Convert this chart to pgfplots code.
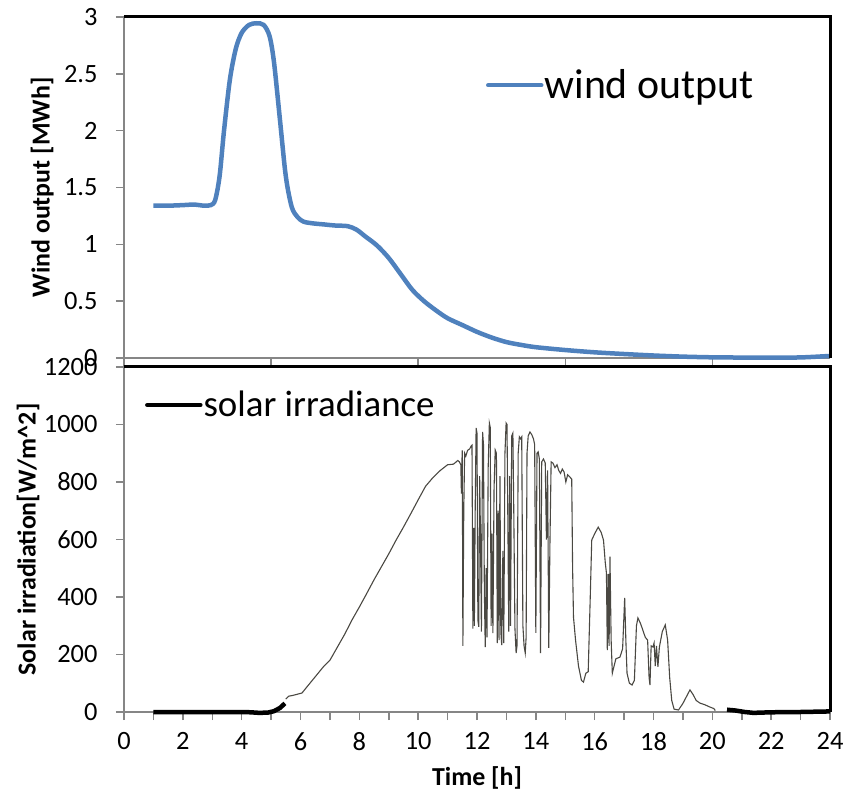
\documentclass[border=0pt]{standalone}
\usepackage{fontspec}
\setmainfont{Carlito}
\usepackage{pgfplots}
\pgfplotsset{compat=1.18}
\definecolor{windblue}{HTML}{4F81BD}
\definecolor{axisgray}{HTML}{868686}
\definecolor{irrgray}{HTML}{4A4842}

\pgfplotsset{
  panel/.style={
    scale only axis, width=706bp,
    xmin=0, xmax=24,
    axis x line=bottom, axis y line=left,
    axis line style={axisgray, line width=2bp, -},
    x axis line style={-}, y axis line style={-},
    tick style={axisgray, line width=1.5bp},
    tick align=outside,
    major tick length=8bp, minor tick length=8bp,
    clip=false,
    /pgf/number format/assume math mode=true,
    /pgf/number format/1000 sep={},
    tick label style={font=\fontsize{26.5}{30}\selectfont},
    yticklabel style={xshift=-15bp},
    xticklabel style={yshift=-9bp},
    label style={font=\bfseries\fontsize{26}{30}\selectfont},
    legend style={draw=none, fill=none, inner sep=0pt, anchor=west, nodes={inner sep=1bp}},
    legend image code/.code={\draw[##1, line cap=round] (0bp,0bp) -- (53bp,0bp);},
  },
}

\begin{document}
\begin{tikzpicture}
\useasboundingbox (-124bp,-80bp) rectangle (722bp,712bp);

% top: wind output
\begin{axis}[panel, at={(0,354bp)}, anchor=south west, height=341bp,
    ymin=0, ymax=3, ytick={0,0.5,1,1.5,2,2.5,3},
    xtick={0,5,10,15,20}, xticklabels={{},{},{},{},{}},
    ylabel={Wind output [MWh]},
    ylabel style={at={(axis description cs:-0.116,0.5)}, anchor=center},
    legend style={at={(axis cs:12.30,2.40)}, font=\fontsize{42}{42}\selectfont}]
\addplot[windblue, line width=4.5bp, smooth, tension=0.5] coordinates {
 (1,1.34) (1.5,1.34) (2,1.345) (2.4,1.35) (2.7,1.34) (2.95,1.345) (3.1,1.39)
 (3.25,1.6) (3.4,2.0) (3.6,2.45) (3.8,2.72) (4.0,2.86) (4.25,2.93) (4.5,2.945)
 (4.75,2.93) (4.95,2.83) (5.1,2.6) (5.3,2.1) (5.5,1.6) (5.7,1.33) (5.9,1.24)
 (6.1,1.2) (6.4,1.185) (6.8,1.175) (7.2,1.165) (7.6,1.16) (7.9,1.13) (8.2,1.07)
 (8.6,0.99) (9.0,0.88) (9.4,0.74) (9.8,0.6) (10.2,0.5) (10.6,0.42) (11.0,0.35)
 (11.5,0.29) (12.0,0.23) (12.5,0.18) (13.0,0.14) (13.5,0.115) (14,0.095)
 (15,0.07) (16,0.05) (17,0.035) (18,0.022) (19,0.012) (20,0.006) (21,0.004)
 (22,0.004) (23,0.005) (24,0.018)
};
\addlegendentry{wind output}
\draw[black, line width=3bp] (rel axis cs:0,1) -- (rel axis cs:1,1) -- (rel axis cs:1,0);
\end{axis}

% bottom: solar irradiance
\begin{axis}[panel, at={(0,0)}, anchor=south west, height=345bp,
    ymin=0, ymax=1200, ytick={0,200,400,600,800,1000,1200},
    xtick={0,2,...,24}, minor xtick={1,3,...,23},
    ylabel={Solar irradiation[W/m\textasciicircum 2]},
    ylabel style={at={(axis description cs:-0.136,0.5)}, anchor=center},
    xlabel={Time [h]},
    xlabel style={at={(axis description cs:0.5,0)}, yshift=-66bp, anchor=center},
    legend style={at={(axis cs:0.71,1068)}, font=\fontsize{37}{37}\selectfont}]
\addplot[black, line width=4.5bp] coordinates {
 (1,0) (2,0) (3,0) (4,0) (4.3,-1) (4.6,-3) (4.9,-2) (5.1,3) (5.3,14) (5.47,30)
};
\addlegendentry{solar irradiance}
\addplot[irrgray, line width=1.1bp, forget plot] coordinates {
 (5.50,45) (5.60,55) (5.75,58) (5.90,62) (6.05,66) (6.20,85) (6.40,110) (6.60,135)
 (6.80,160) (7.00,180) (7.25,225) (7.50,270) (7.75,320) (8.00,365) (8.25,412)
 (8.50,460) (8.75,505) (9.00,550) (9.25,598) (9.50,643) (9.75,690) (10.00,738)
 (10.25,785) (10.50,815) (10.75,840) (11.00,860) (11.20,862) (11.35,875)
 (11.40,870) (11.45,860) (11.47,760) (11.49,880) (11.50,910) (11.52,230)
 (11.55,700) (11.58,900) (11.62,890) (11.68,910) (11.75,915) (11.80,925)
 (11.83,928) (11.86,290) (11.89,640) (11.91,300) (11.94,720) (11.97,988)
 (12.00,970) (12.03,320) (12.06,296) (12.09,820) (12.12,600) (12.15,280)
 (12.19,974) (12.22,930) (12.25,420) (12.28,226) (12.31,500) (12.34,260)
 (12.38,850) (12.42,1005) (12.45,990) (12.48,300) (12.51,620) (12.54,274)
 (12.58,780) (12.62,911) (12.66,900) (12.69,240) (12.72,700) (12.75,250)
 (12.78,820) (12.81,280) (12.84,233) (12.88,560) (12.91,240) (12.95,900)
 (12.99,1005) (13.02,1000) (13.05,650) (13.08,280) (13.11,820) (13.14,300)
 (13.18,960) (13.22,970) (13.25,700) (13.29,290) (13.33,205) (13.36,230)
 (13.40,900) (13.44,957) (13.48,950) (13.52,957) (13.56,300) (13.60,230)
 (13.64,205) (13.67,260) (13.70,900) (13.74,960) (13.80,974) (13.86,965)
 (13.92,950) (13.96,930) (14.00,275) (14.04,900) (14.08,905) (14.12,880)
 (14.16,205) (14.20,870) (14.26,880) (14.32,866) (14.36,600) (14.40,840)
 (14.44,223) (14.48,590) (14.52,870) (14.58,866) (14.65,850) (14.72,860)
 (14.78,840) (14.84,830) (14.90,845) (14.96,835) (15.02,800) (15.08,825)
 (15.16,817) (15.22,810) (15.25,500) (15.28,330) (15.35,250) (15.45,160)
 (15.55,110) (15.62,104) (15.70,135) (15.78,140) (15.85,400) (15.90,598)
 (16.00,620) (16.12,643) (16.22,625) (16.30,598) (16.36,520) (16.40,483)
 (16.43,215) (16.46,480) (16.49,230) (16.52,540) (16.56,250) (16.60,135)
 (16.66,160) (16.72,185) (16.86,191) (16.95,220) (17.02,397) (17.06,250)
 (17.10,135) (17.18,100) (17.27,94) (17.35,110) (17.42,300) (17.47,327)
 (17.55,310) (17.62,290) (17.72,260) (17.80,250) (17.85,120) (17.88,94)
 (17.92,230) (17.98,226) (18.02,240) (18.06,160) (18.10,230) (18.15,157)
 (18.20,226) (18.30,280) (18.40,303) (18.48,250) (18.55,120) (18.62,40)
 (18.70,10) (18.85,7) (19.00,30) (19.24,77) (19.35,60) (19.45,40) (19.58,31)
 (19.75,25) (19.90,18) (20.05,12) (20.10,5)
};
\addplot[black, line width=4.5bp, forget plot] coordinates {
 (20.5,8) (20.8,5) (21.1,0) (21.4,-3) (22,-1) (23,0) (24,2)
};
\draw[black, line width=3bp] (rel axis cs:0,1) -- (rel axis cs:1,1) -- (rel axis cs:1,0);
\end{axis}
\end{tikzpicture}
\end{document}
